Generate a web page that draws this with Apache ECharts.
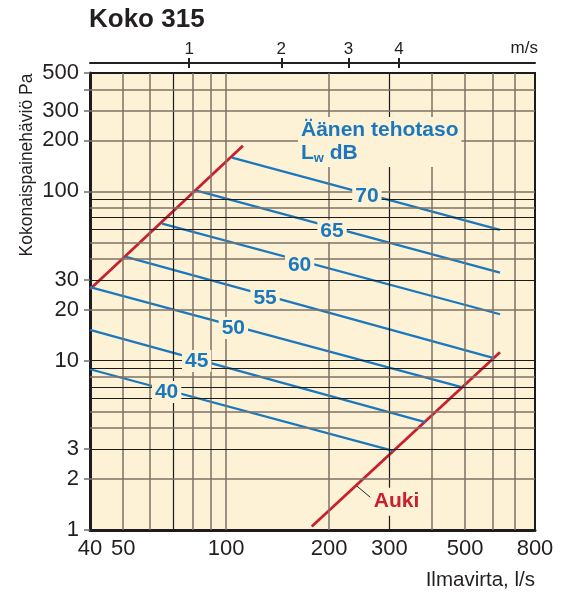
<!DOCTYPE html>
<html>
<head>
<meta charset="utf-8">
<script src="https://cdn.jsdelivr.net/npm/echarts@6/dist/echarts.min.js"></script>
<style>
  html, body { margin: 0; padding: 0; background: #ffffff; }
  #chart { width: 564px; height: 592px; }
</style>
</head>
<body>
<div id="chart"></div>
<script>
// Koko 315: air flow (l/s) vs. total pressure loss (Pa), log-log
const flowLabels = [40, 50, 100, 200, 300, 500, 800];
const pressureLabels = [1, 2, 3, 10, 20, 30, 100, 200, 300, 500];
const pressureTicks = [1, 2, 3, 10, 20, 30, 100, 200, 300, 400, 500];

const flowGrid = [50, 60, 70, 80, 90, 100, 200, 300, 400, 500, 600, 700];
const flowGridDark = [70, 300];
const pressureGrid = [2, 3, 4, 5, 6, 7, 8, 9, 10, 20, 30, 40, 50, 60, 70, 80, 90, 100, 200, 300, 400];
const pressureGridDark = [3, 6, 7, 9, 10, 30, 60, 70, 90];

// duct air speed (m/s) marked on the top scale, at the flow it corresponds to
const speedLabels = ['1', '2', '3', '4'];
const speedAtFlow = [78, 145, 228, 320];

// sound power level lines Lw dB
const soundLevels = ['70', '65', '60', '55', '50', '45', '40'];
const soundStart = [[104, 158], [82, 101], [65, 64.5], [51, 41], [40, 27.2], [40, 15.2], [40, 8.9]];
const soundEnd = [[632, 59.2], [632, 33.1], [632, 18.8], [603, 10.4], [488, 6.97], [382, 4.33], [308, 2.93]];
const soundLabelAt = [[258, 93.9], [204, 58.3], [164, 36.8], [130, 23.5], [105, 15.6], [82, 9.96], [67, 6.53]];

// damper position lines
const limitLine = [[40, 26.4], [112, 186]];
const aukiLine = [[178, 1.05], [632, 11.2]];
const aukiLeader = [[241, 1.82], [264, 1.56]];
const aukiLabelAt = [315, 1.47];

const PLOT_BG = '#fdf2d6';
const BLUE = '#1b78bd';
const RED = '#c8202f';
const INK = '#231f20';
const GRID_GRAY = '#7c7266';
const GRID_DARK = '#1c1c1c';
const FONT = 'Liberation Sans, Arial, sans-serif';

const gridLineItems = []
  .concat(flowGrid.map(v => ({
    xAxis: v,
    lineStyle: flowGridDark.includes(v)
      ? { color: GRID_DARK, width: 1.2, type: 'solid' }
      : { color: GRID_GRAY, width: 1.5, type: 'solid' }
  })))
  .concat(pressureGrid.map(v => ({
    yAxis: v,
    lineStyle: pressureGridDark.includes(v)
      ? { color: GRID_DARK, width: 1.2, type: 'solid' }
      : { color: GRID_GRAY, width: 1.5, type: 'solid' }
  })));

function nearestIndex(arr, v) {
  let best = 0;
  for (let i = 1; i < arr.length; i++) {
    if (Math.abs(Math.log(arr[i] / v)) < Math.abs(Math.log(arr[best] / v))) best = i;
  }
  return best;
}

const lineBase = {
  type: 'line',
  symbol: 'none',
  silent: true,
  z: 3,
  emphasis: { disabled: true }
};

function textMarks(points, texts, color, lineHeight) {
  return {
    type: 'scatter',
    silent: true,
    z: 5,
    symbol: 'circle',
    symbolSize: 0,
    itemStyle: { color: color, opacity: 1 },
    emphasis: { disabled: true },
    data: points.map((p, i) => [p[0], p[1], texts[i]]),
    label: {
      show: true,
      position: 'inside',
      formatter: p => p.value[2],
      color: color,
      opacity: 1,
      textBorderWidth: 0,
      textBorderColor: 'transparent',
      fontFamily: FONT,
      fontWeight: 'bold',
      fontSize: 21,
      lineHeight: lineHeight,
      backgroundColor: PLOT_BG,
      padding: [0, 3, 0, 3]
    }
  };
}

const series = [
  {
    type: 'line',
    data: [],
    silent: true,
    z: 1,
    markLine: {
      silent: true,
      animation: false,
      symbol: ['none', 'none'],
      label: { show: false },
      lineStyle: { type: 'solid' },
      emphasis: { disabled: true },
      data: gridLineItems
    }
  },
  Object.assign({}, lineBase, { data: limitLine, lineStyle: { color: RED, width: 2.8 } }),
  Object.assign({}, lineBase, { data: aukiLine, lineStyle: { color: RED, width: 2.8 } }),
  Object.assign({}, lineBase, { data: aukiLeader, lineStyle: { color: INK, width: 1 } })
];

soundLevels.forEach((lvl, i) => {
  series.push(Object.assign({}, lineBase, {
    name: lvl + ' dB',
    data: [soundStart[i], soundEnd[i]],
    lineStyle: { color: BLUE, width: 2.3 }
  }));
});

series.push(textMarks(soundLabelAt, soundLevels, BLUE, 22));
series.push(textMarks([aukiLabelAt], ['Auki'], RED, 28));

const chart = echarts.init(document.getElementById('chart'), null, { renderer: 'canvas' });

chart.setOption({
  animation: false,
  backgroundColor: '#ffffff',
  textStyle: { fontFamily: FONT, color: INK },
  title: {
    text: 'Koko 315',
    left: 89,
    top: 7,
    padding: 0,
    textStyle: { fontFamily: FONT, fontSize: 26, fontWeight: 'bold', color: INK }
  },
  grid: {
    left: 90,
    right: 29,
    top: 73,
    bottom: 62,
    show: true,
    backgroundColor: PLOT_BG,
    borderColor: GRID_DARK,
    borderWidth: 2
  },
  xAxis: [
    {
      type: 'log',
      logBase: 10,
      min: 40,
      max: 800,
      position: 'bottom',
      axisLine: { show: true, lineStyle: { color: GRID_DARK, width: 3 } },
      axisTick: { show: false },
      splitLine: { show: false },
      minorSplitLine: { show: false },
      axisLabel: {
        customValues: flowLabels,
        formatter: v => String(Math.round(v)),
        fontSize: 22,
        color: INK,
        margin: 8,
        fontFamily: FONT
      }
    },
    {
      type: 'log',
      logBase: 10,
      min: 40,
      max: 800,
      position: 'top',
      offset: 10,
      axisLine: { show: true, lineStyle: { color: INK, width: 2 } },
      axisTick: { show: true, customValues: speedAtFlow, length: 5, inside: false, lineStyle: { color: INK, width: 2 } },
      splitLine: { show: false },
      axisLabel: {
        customValues: speedAtFlow,
        formatter: v => speedLabels[nearestIndex(speedAtFlow, v)],
        fontSize: 17,
        color: INK,
        margin: 5,
        fontFamily: FONT
      }
    },
    {
      type: 'log',
      logBase: 10,
      min: 40,
      max: 800,
      position: 'top',
      offset: 10,
      axisLine: { show: false },
      axisTick: { show: true, customValues: speedAtFlow, length: 5, inside: true, lineStyle: { color: INK, width: 2 } },
      splitLine: { show: false },
      axisLabel: { show: false }
    }
  ],
  yAxis: {
    type: 'log',
    logBase: 10,
    min: 1,
    max: 500,
    axisLine: { show: true, lineStyle: { color: GRID_DARK, width: 3 } },
    axisTick: { show: true, customValues: pressureTicks, length: 6, lineStyle: { color: '#6d6d6d', width: 1.5 } },
    splitLine: { show: false },
    minorSplitLine: { show: false },
    axisLabel: {
      customValues: pressureLabels,
      formatter: v => String(Math.round(v)),
      fontSize: 22,
      color: INK,
      margin: 11,
      fontFamily: FONT
    }
  },
  graphic: [
    {
      type: 'text',
      z: 100,
      x: 298,
      y: 117,
      style: {
        text: '{a|Äänen tehotaso}\n{b|L}{c|w}{b| dB}',
        fill: BLUE,
        backgroundColor: PLOT_BG,
        padding: [2, 3, 2, 3],
        rich: {
          a: { fontFamily: FONT, fontSize: 21, fontWeight: 'bold', fill: BLUE, lineHeight: 23 },
          b: { fontFamily: FONT, fontSize: 21, fontWeight: 'bold', fill: BLUE, lineHeight: 23 },
          c: { fontFamily: FONT, fontSize: 13, fontWeight: 'bold', fill: BLUE, lineHeight: 19, verticalAlign: 'bottom' }
        }
      }
    },
    {
      type: 'text',
      z: 100,
      x: 27,
      y: 165,
      rotation: Math.PI / 2,
      style: {
        text: 'Kokonaispainehäviö Pa',
        fontFamily: FONT,
        fontSize: 17.5,
        fill: INK,
        align: 'center',
        verticalAlign: 'middle'
      }
    },
    {
      type: 'text',
      z: 100,
      x: 535,
      y: 580,
      style: {
        text: 'Ilmavirta, l/s',
        fontFamily: FONT,
        fontSize: 20.5,
        fill: INK,
        align: 'right',
        verticalAlign: 'middle'
      }
    },
    {
      type: 'text',
      z: 100,
      x: 538,
      y: 48,
      style: {
        text: 'm/s',
        fontFamily: FONT,
        fontSize: 17,
        fill: INK,
        align: 'right',
        verticalAlign: 'middle'
      }
    }
  ],
  series: series
});
</script>
</body>
</html>
